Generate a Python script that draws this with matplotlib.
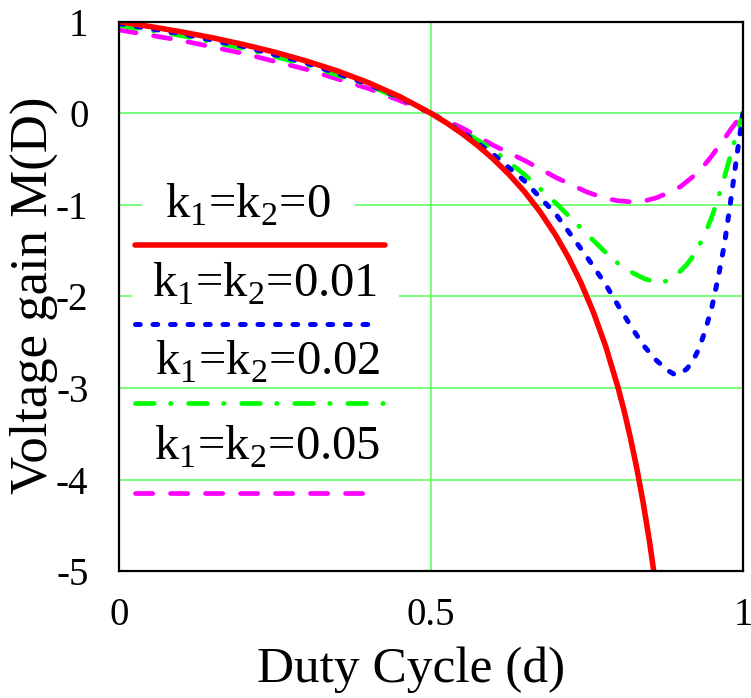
import matplotlib
matplotlib.use("Agg")
import matplotlib.pyplot as plt
from matplotlib.lines import Line2D

plt.rcParams["font.family"] = ["Liberation Serif", "DejaVu Serif"]
plt.rcParams["mathtext.fontset"] = "custom"
plt.rcParams["mathtext.rm"] = "Liberation Serif"
plt.rcParams["lines.scale_dashes"] = False

# Ideal converter (k1 = k2 = 0)
d_ideal = [0, 0.05, 0.1, 0.15, 0.2, 0.25, 0.3, 0.35, 0.4, 0.45, 0.5, 0.525, 0.55, 0.575,
           0.6, 0.625, 0.65, 0.675, 0.7, 0.72, 0.74, 0.76, 0.78, 0.8, 0.81, 0.82, 0.83,
           0.84, 0.85, 0.86]
m_ideal = [1.0, 0.947, 0.889, 0.824, 0.75, 0.667, 0.571, 0.462, 0.333, 0.182, 0.0, -0.105,
           -0.222, -0.353, -0.5, -0.667, -0.857, -1.077, -1.333, -1.571, -1.846, -2.167,
           -2.545, -3.0, -3.263, -3.556, -3.882, -4.25, -4.667, -5.143]

# Converter with parasitic losses
d_loss = [0, 0.1, 0.2, 0.3, 0.4, 0.45, 0.5, 0.55, 0.6, 0.65, 0.7, 0.75, 0.78, 0.8, 0.82,
          0.84, 0.86, 0.88, 0.89, 0.9, 0.91, 0.92, 0.93, 0.94, 0.95, 0.96, 0.97, 0.98,
          0.99, 1.0]
m_k001 = [0.98, 0.868, 0.728, 0.55, 0.317, 0.171, 0.0, -0.204, -0.449, -0.74, -1.10, -1.57,
          -1.87, -2.10, -2.32, -2.53, -2.69, -2.81, -2.85, -2.84, -2.79, -2.70, -2.56,
          -2.36, -2.12, -1.80, -1.44, -0.97, -0.47, 0.0]
m_k002 = [0.96, 0.848, 0.707, 0.53, 0.302, 0.162, 0.0, -0.19, -0.40, -0.67, -0.98, -1.32,
          -1.52, -1.64, -1.73, -1.80, -1.845, -1.83, -1.785, -1.72, -1.65, -1.56, -1.44,
          -1.30, -1.13, -0.93, -0.70, -0.46, -0.22, 0.0]
m_k005 = [0.91, 0.795, 0.652, 0.48, 0.27, 0.139, 0.0, -0.16, -0.35, -0.515, -0.70, -0.86,
          -0.93, -0.955, -0.966, -0.96, -0.925, -0.87, -0.835, -0.80, -0.745, -0.69, -0.62,
          -0.55, -0.465, -0.37, -0.28, -0.18, -0.09, 0.0]

labels = [r"k$_\mathregular{1}$=k$_\mathregular{2}$=0",
          r"k$_\mathregular{1}$=k$_\mathregular{2}$=0.01",
          r"k$_\mathregular{1}$=k$_\mathregular{2}$=0.02",
          r"k$_\mathregular{1}$=k$_\mathregular{2}$=0.05"]
x_ticks = [0, 0.5, 1]
x_tick_labels = ["0", "0.5", "1"]
y_ticks = [1, 0, -1, -2, -3, -4, -5]
y_tick_labels = ["1", "0", "-1", "-2", "-3", "-4", "-5"]

styles = {
    "red": dict(color="#ff0000", lw=4.0, ls="-", solid_capstyle="round"),
    "blue": dict(color="#0000ff", lw=3.6, dashes=(3.4, 9.2), dash_capstyle="round"),
    "green": dict(color="#00ff00", lw=3.4, dashes=(13.5, 11.7, 0.4, 12.6), dash_capstyle="round"),
    "magenta": dict(color="#ff00ff", lw=3.4, dashes=(12.4, 12.8), dash_capstyle="round"),
}

fig = plt.figure(figsize=(7.51, 6.98), dpi=100)
ax = fig.add_axes([119 / 751, (698 - 571.3) / 698, 624 / 751, 549.6 / 698])

ax.plot(d_loss, m_k005, zorder=3, **styles["magenta"])
ax.plot(d_loss, m_k002, zorder=4, **styles["green"])
ax.plot(d_loss, m_k001, zorder=5, **styles["blue"])
ax.plot(d_ideal, m_ideal, zorder=6, **styles["red"])

ax.set_xlim(0, 1)
ax.set_ylim(-5, 1)
ax.set_xticks(x_ticks)
ax.set_xticklabels(x_tick_labels)
ax.set_yticks(y_ticks)
ax.set_yticklabels(y_tick_labels)
ax.tick_params(axis="both", length=0, labelsize=28)
ax.tick_params(axis="y", pad=22)
ax.tick_params(axis="x", pad=18.5)
ax.grid(True, color="#55ff55", lw=1.1, zorder=0)
ax.set_axisbelow(True)
for sp in ax.spines.values():
    sp.set_linewidth(1.6)
    sp.set_zorder(7)

ax.set_xlabel("Duty Cycle (d)", fontsize=37)
ax.xaxis.set_label_coords(0.468, -0.137)
ax.set_ylabel("Voltage gain M(D)", fontsize=38)
ax.yaxis.set_label_coords(-0.098, 0.503)

# Legend: label text above each line sample
text_pos = [(0.207, 0.643), (0.234, 0.499), (0.238, 0.357), (0.238, 0.202)]
text_pad = [17, 15, 0, 0]
for (tx, ty), lab, pad in zip(text_pos, labels, text_pad):
    kw = {}
    if pad:
        kw["bbox"] = dict(boxstyle=f"square,pad={pad / 35:.3f}", fc="white", ec="none")
    ax.text(tx, ty, lab, transform=ax.transAxes, fontsize=35, ha="center",
            va="baseline", zorder=8, **kw)

sample_rows = [("red", 0.594, 0.426), ("blue", 0.450, 0.413),
               ("green", 0.306, 0.434), ("magenta", 0.143, 0.405)]
for key, y, x1 in sample_rows:
    ax.add_line(Line2D([0.026, x1], [y, y], transform=ax.transAxes, zorder=9,
                       **styles[key]))

fig.savefig("out.png", dpi=100, facecolor="white")
